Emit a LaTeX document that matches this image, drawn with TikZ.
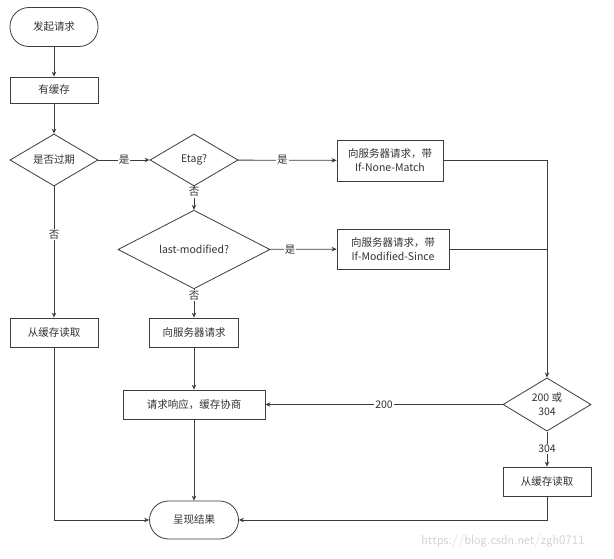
\documentclass[tikz,border=0pt]{standalone}
\usepackage{fontspec}
\setmainfont{Noto Sans CJK SC}
\usetikzlibrary{shapes.geometric,arrows.meta}
\definecolor{trait}{RGB}{60,60,60}
\definecolor{texte}{RGB}{50,50,50}

\begin{document}
\begin{tikzpicture}[x=1pt,y=-1pt,font=\fontsize{10.5}{14}\selectfont,
  line width=0.8pt,
  boite/.style={draw=trait,text=texte,rectangle,minimum width=88pt,minimum height=29pt,inner sep=1pt,align=center},
  terminal/.style={boite,rounded corners=19pt,minimum height=39pt},
  losange/.style={draw=trait,text=texte,diamond,minimum width=88pt,minimum height=52pt,inner sep=0pt,align=center},
  fleche/.style={draw=trait,-{Stealth[length=5pt,width=4.5pt]}},
  lien/.style={draw=trait},
  etiq/.style={fill=white,text=texte,inner sep=1pt}]
\useasboundingbox (0,0) rectangle (614,559);

% noeuds
\node[terminal] (debut) at (54,27) {发起请求};
\node[boite,minimum height=26pt] (cache) at (54,90) {有缓存};
\node[losange] (expire) at (54,160) {是否过期};
\node[losange] (etag) at (194,160) {Etag?};
\node[boite,minimum width=106pt,minimum height=41pt] (nonematch) at (390,160.5) {向服务器请求，带\\If-None-Match};
\node[losange,minimum width=152pt,minimum height=57pt] (lastmod) at (194,249.5) {last-modified?};
\node[boite,minimum width=112pt,minimum height=40pt] (modsince) at (393,249) {向服务器请求，带\\If-Modified-Since};
\node[boite] (lecturea) at (54,332.5) {从缓存读取};
\node[boite,minimum width=89pt] (serveur) at (194,332.5) {向服务器请求};
\node[boite,minimum width=142pt] (negocie) at (194,404.5) {请求响应，缓存协商};
\node[losange,minimum height=51pt] (statut) at (547,404.5) {200 或\\304};
\node[boite] (lectureb) at (547,481.5) {从缓存读取};
\node[terminal,minimum width=89pt,minimum height=38pt] (resultat) at (194,520) {呈现结果};
\coordinate (jonction) at (547,249);

% liaisons
\draw[fleche] (debut) -- (cache);
\draw[fleche] (cache) -- (expire);
\draw[fleche] (expire) -- node[etiq] {是} (etag);
\draw[fleche] (expire) -- node[etiq,pos=0.37] {否} (lecturea);
\draw[fleche] (etag) -- node[etiq,pos=0.45] {是} (nonematch);
\draw[fleche] (etag) -- node[etiq,pos=0.25] {否} (lastmod);
\draw[fleche] (lastmod) -- node[etiq,pos=0.3] {是} (modsince);
\draw[fleche] (lastmod) -- node[etiq,pos=0.22] {否} (serveur);
\draw[fleche] (nonematch) -| (statut);
\draw[lien] (modsince) -- (jonction);
\draw[fleche] (serveur) -- (negocie);
\draw[fleche] (statut) -- node[etiq] {200} (negocie);
\draw[fleche] (statut) -- node[etiq] {304} (lectureb);
\draw[fleche] (negocie) -- (resultat);
\draw[fleche] (lecturea) |- (resultat);
\draw[fleche] (lectureb) |- (resultat);

\node[text=black!18,font=\fontsize{13}{15}\selectfont\sffamily] (filigrane) at (503,541) {https://blog.csdn.net/zgh0711};
\end{tikzpicture}
\end{document}
